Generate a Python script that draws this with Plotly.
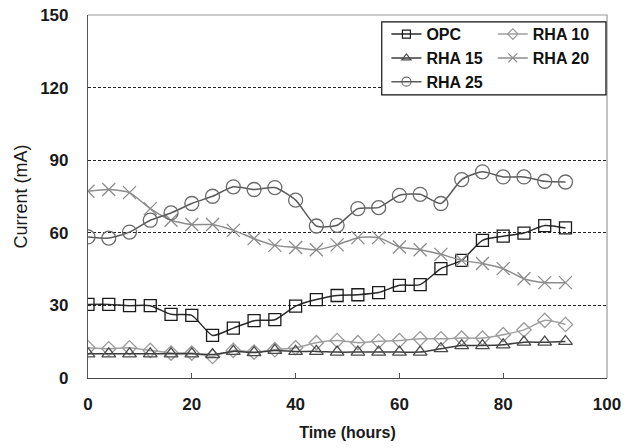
import plotly.graph_objects as go

time_h = [0, 4, 8, 12, 16, 20, 24, 28, 32, 36, 40, 44, 48, 52, 56, 60, 64, 68, 72, 76, 80, 84, 88, 92]
opc = [30.4, 30.4, 29.9, 29.9, 26.3, 25.9, 17.6, 20.6, 23.7, 24.1, 29.7, 32.4, 34.1, 34.4, 35.3, 38.3, 38.6, 45.2, 48.6, 56.9, 58.6, 59.9, 63.0, 62.0]
rha10 = [12.5, 12.1, 12.5, 11.4, 10.3, 10.3, 8.9, 11.4, 10.7, 11.7, 12.5, 14.6, 15.5, 14.6, 15.2, 15.5, 16.2, 16.2, 16.5, 16.5, 17.9, 19.9, 23.8, 22.1]
rha15 = [10.0, 10.0, 10.0, 10.0, 10.0, 10.0, 9.7, 11.0, 10.5, 11.4, 11.0, 11.0, 10.7, 10.7, 10.7, 10.7, 10.7, 12.1, 13.4, 13.4, 13.7, 14.8, 14.8, 15.1]
rha20 = [77.2, 77.9, 76.6, 70.0, 65.2, 63.4, 63.4, 61.0, 57.6, 54.8, 53.9, 53.0, 55.0, 58.0, 58.0, 54.1, 53.0, 51.1, 48.6, 47.3, 45.2, 41.0, 39.4, 39.4]
rha25 = [58.3, 57.8, 60.3, 65.2, 68.2, 72.1, 75.1, 79.0, 77.9, 78.7, 73.5, 62.8, 63.1, 70.0, 70.4, 75.5, 75.9, 72.1, 82.0, 85.2, 83.1, 83.1, 81.3, 81.0]

names = ["OPC", "RHA 10", "RHA 15", "RHA 20", "RHA 25"]
series = [opc, rha10, rha15, rha20, rha25]
symbols = ["square-open", "diamond-open", "triangle-up-open", "x-thin-open", "circle-open"]
line_colors = ["#2a2a2a", "#a0a0a0", "#3c3c3c", "#8c8c8c", "#5a5a5a"]
marker_colors = ["#1a1a1a", "#9a9a9a", "#4a4a4a", "#8c8c8c", "#6a6a6a"]
sizes = [12, 11, 12, 13, 14]
legend_sizes = [8, 8, 8, 9, 9]
legend_ids = ["legend", "legend2", "legend", "legend2", "legend"]

fig = go.Figure()
for n, y, s, lc, mc, sz in zip(names, series, symbols, line_colors, marker_colors, sizes):
    fig.add_trace(go.Scatter(
        x=time_h, y=y, name=n, mode="lines+markers", showlegend=False,
        line=dict(color=lc, width=1.5, shape="spline", smoothing=0.6),
        marker=dict(symbol=s, size=sz, color=mc, line=dict(color=mc, width=1.3)),
    ))
# legend entries (smaller symbols, as in the reference legend)
for n, s, lc, mc, lsz, lg in zip(names, symbols, line_colors, marker_colors, legend_sizes, legend_ids):
    fig.add_trace(go.Scatter(
        x=[None], y=[None], name=n, mode="lines+markers", legend=lg,
        line=dict(color=lc, width=1.5),
        marker=dict(symbol=s, size=lsz, color=mc, line=dict(color=mc, width=1.2)),
    ))

font = dict(family="Liberation Sans, Arial, sans-serif", size=16, color="#1a1a1a")

fig.add_shape(type="rect", xref="paper", yref="paper", x0=0.566, x1=0.998, y0=0.78, y1=0.981,
              line=dict(color="#111", width=1.2), fillcolor="white", layer="above")
# lighter top/right frame
fig.add_shape(type="path", xref="paper", yref="paper", path="M 0 1 L 1 1 L 1 0",
              line=dict(color="#9a9a9a", width=1.2), layer="below")

legend_common = dict(bgcolor="rgba(0,0,0,0)", borderwidth=0, orientation="v",
                     font=dict(family="Liberation Sans, Arial, sans-serif", size=16, color="#111", weight="bold"),
                     xanchor="left", yanchor="top", tracegroupgap=0, itemwidth=30)

fig.update_layout(
    width=638, height=448,
    margin=dict(l=88, r=31, t=15, b=70),
    paper_bgcolor="white", plot_bgcolor="white",
    font=font,
    legend=dict(x=0.575, y=0.994, **legend_common),
    legend2=dict(x=0.78, y=0.994, **legend_common),
    xaxis=dict(range=[0, 100], dtick=20, tick0=0, showgrid=False, zeroline=False, automargin=False,
               showline=True, linecolor="#444", linewidth=1.2, mirror=False,
               ticks="inside", ticklen=5, tickcolor="#555",
               tickfont=dict(size=17, weight="bold"), ticklabelstandoff=10,
               title=dict(text="<b>Time (hours)</b>", font=dict(size=16), standoff=14)),
    yaxis=dict(range=[0, 150], dtick=30, tick0=0, showgrid=True, gridcolor="#222",
               griddash="3px,2px", gridwidth=1, zeroline=False, automargin=False,
               showline=True, linecolor="#555", linewidth=1.2, mirror=False,
               ticks="", tickfont=dict(size=17, weight="bold"), ticklabelstandoff=15,
               title=dict(text="Current (mA)", font=dict(size=18), standoff=7)),
)

fig.write_html("out.html", config={"displayModeBar": False},
               post_script="document.body.style.margin='0';")
